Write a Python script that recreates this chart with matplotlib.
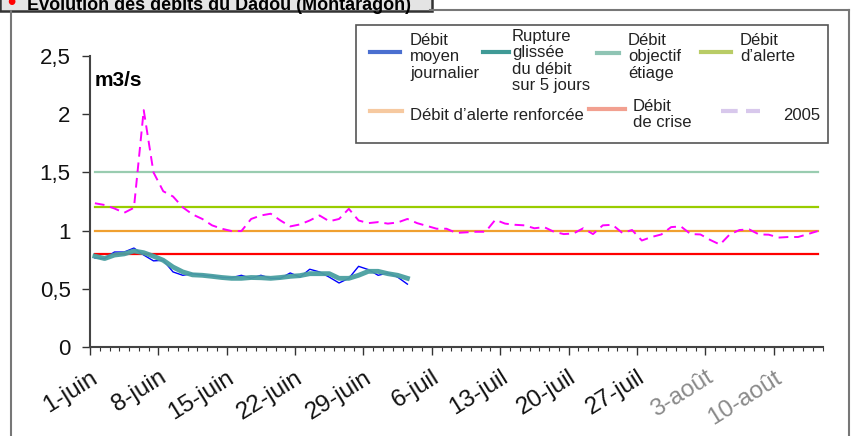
import matplotlib
matplotlib.use("Agg")
import matplotlib.pyplot as plt
import numpy as np
from matplotlib.lines import Line2D
from matplotlib.patches import Rectangle

plt.rcParams['font.family'] = ['Liberation Sans', 'DejaVu Sans']

# donnees (1-juin -> 14-aout)
debit_2005 = [1.235, 1.22, 1.19, 1.153, 1.196, 2.035, 1.50, 1.338, 1.293, 1.20,
              1.139, 1.10, 1.045, 1.016, 0.996, 0.996, 1.10, 1.13, 1.145, 1.087,
              1.036, 1.053, 1.087, 1.13, 1.08, 1.10, 1.187, 1.087, 1.064, 1.073,
              1.06, 1.07, 1.10, 1.064, 1.04, 1.016, 1.016, 0.98, 0.985, 0.99,
              0.99, 1.093, 1.06, 1.05, 1.045, 1.02, 1.03, 0.99, 0.97, 0.975,
              1.02, 0.97, 1.045, 1.05, 0.98, 1.005, 0.915, 0.945, 0.967, 1.03,
              1.036, 0.97, 0.967, 0.92, 0.88, 0.967, 1.005, 1.01, 0.967, 0.965,
              0.94, 0.945, 0.945, 0.97, 0.996]
debit_journalier = [0.765, 0.76, 0.816, 0.816, 0.85, 0.79, 0.74, 0.745, 0.645, 0.616,
                    0.63, 0.616, 0.61, 0.597, 0.595, 0.616, 0.59, 0.616, 0.59, 0.59,
                    0.636, 0.60, 0.668, 0.645, 0.60, 0.55, 0.59, 0.693, 0.665, 0.616,
                    0.636, 0.60, 0.54]
rupture_5j = [0.78, 0.76, 0.79, 0.80, 0.825, 0.81, 0.78, 0.745, 0.687, 0.645,
              0.62, 0.616, 0.607, 0.597, 0.59, 0.59, 0.597, 0.595, 0.59, 0.597,
              0.607, 0.613, 0.63, 0.63, 0.63, 0.59, 0.59, 0.616, 0.65, 0.65,
              0.63, 0.616, 0.59]
seuils = {'objectif': 1.5, 'alerte': 1.2, 'renforcee': 1.0, 'crise': 0.8}
tick_labels = ['1-juin', '8-juin', '15-juin', '22-juin', '29-juin', '6-juil',
               '13-juil', '20-juil', '27-juil', '3-août', '10-août']
n_jours = 75

W, H = 858, 436
fig = plt.figure(figsize=(W / 100, H / 100), dpi=100)

def fx(px):
    return px / W

def fy(py):
    return 1 - py / H

# cadre + bandeau de titre
fig.add_artist(Line2D([fx(11), fx(11)], [fy(11), fy(436)], color='#777777', lw=1.5))
fig.add_artist(Line2D([fx(849), fx(849)], [fy(10), fy(436)], color='#777777', lw=1.5))
fig.add_artist(Line2D([fx(430), fx(849)], [fy(10), fy(10)], color='#777777', lw=1.5))
fig.add_artist(Rectangle((0, fy(11)), fx(432), 11 / H + 0.01, transform=fig.transFigure,
                         facecolor='#e4e4e4', edgecolor='#333333', lw=1.8))
fig.text(fx(7), fy(9), '•', color='red', fontsize=17, fontweight='bold', va='baseline')
fig.text(fx(27), fy(9.5), 'Évolution des débits du Dadou (Montaragon)', fontsize=13,
         fontweight='bold', color='black', va='baseline')

ax = fig.add_axes([fx(90), fy(347), (822.5 - 90) / W, (347 - 56) / H])
x = np.arange(n_jours) + 0.5

for key, col in [('objectif', '#99ccb0'), ('alerte', '#99cc00'),
                 ('renforcee', '#f0a030'), ('crise', '#ff0000')]:
    ax.plot([0.5, n_jours - 0.5], [seuils[key]] * 2, color=col, lw=1.6)

ax.plot(x, debit_2005, color='#ff00ff', lw=1.4, ls=(0, (5, 3)))
ax.plot(x[:len(debit_journalier)], debit_journalier, color='#0000ff', lw=1.0)
ax.plot(x[:len(rupture_5j)], rupture_5j, color='#4a9fa0', lw=3.5, alpha=0.95)

ax.set_xlim(0, n_jours)
ax.set_ylim(0, 2.5)
ax.set_yticks([0, 0.5, 1, 1.5, 2, 2.5])
ax.set_yticklabels(['0', '0,5', '1', '1,5', '2', '2,5'], fontsize=16, color='#111111')
ax.set_xticks(np.arange(0, 71, 7))
ax.set_xticks(np.arange(0, n_jours + 1, 1), minor=True)
ax.set_xticklabels(tick_labels, rotation=32, ha='right', rotation_mode='anchor',
                   fontsize=17.5, color='#111111')
for lab in ax.get_xticklabels()[-2:]:
    lab.set_color('#8a8a8a')
ax.tick_params(axis='x', which='major', length=6, width=1, color='#333333', pad=8)
ax.tick_params(axis='x', which='minor', length=3, width=0.8, color='#333333')
ax.tick_params(axis='y', length=6, width=1, color='#333333', pad=8)
for s in ['top', 'right']:
    ax.spines[s].set_visible(False)
for s in ['left', 'bottom']:
    ax.spines[s].set_color('#444444')
    ax.spines[s].set_linewidth(1.5)
ax.text(fx(95), fy(81), 'm3/s', transform=fig.transFigure, fontsize=15,
        fontweight='bold', va='center')

# legende dessinee a la main
fig.add_artist(Rectangle((fx(356), fy(143)), (828 - 356) / W, (143 - 25) / H,
                         transform=fig.transFigure, facecolor='white',
                         edgecolor='#555555', lw=1.2, zorder=5))
leg = [
    (370, 400, 52, '#4a6fd0', '-', 'Débit\nmoyen\njournalier', 410, 33),
    (483, 509, 52, '#3f9a96', '-', 'Rupture\nglissée\ndu débit\nsur 5 jours', 512, 29),
    (597, 619, 53, '#8fc4b4', '-', 'Débit\nobjectif\nétiage', 628, 33),
    (701, 731, 52, '#b9cc66', '-', 'Débit\nd\u2019alerte', 740, 33),
    (370, 402, 111, '#f6c9a0', '-', 'Débit d\u2019alerte renforcée', 410, 108),
    (589, 625, 109, '#f2a090', '-', 'Débit\nde crise', 633, 99),
    (721, 760, 111, '#d8c8ec', (0, (4, 2)), '2005', 783, 108),
]
for x0, x1, yl, col, ls, txt, tx, ty in leg:
    fig.add_artist(Line2D([fx(x0), fx(x1)], [fy(yl), fy(yl)], color=col, lw=3,
                          ls=ls, zorder=6))
    fig.text(fx(tx), fy(ty), txt, fontsize=12, color='#222222', va='top',
             linespacing=1.12, zorder=6)

fig.savefig('out.png', dpi=100)
